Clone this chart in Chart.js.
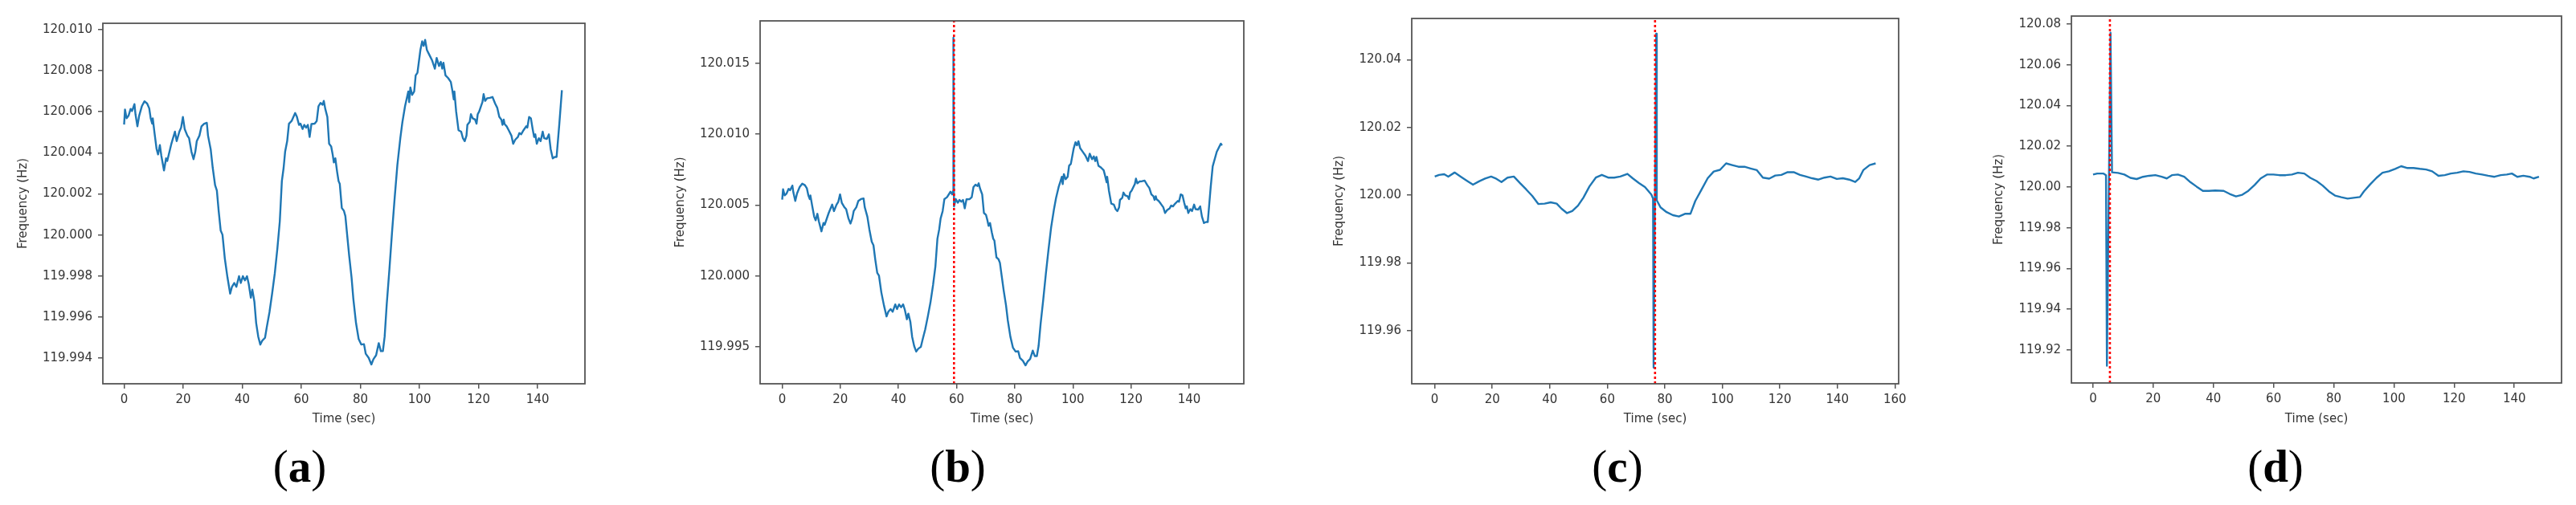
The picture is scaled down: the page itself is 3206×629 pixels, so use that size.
<!DOCTYPE html>
<html>
<head>
<meta charset="utf-8">
<script src="https://cdn.jsdelivr.net/npm/chart.js@4.4.0/dist/chart.umd.min.js"></script>
<style>
html,body{margin:0;padding:0;background:#fff;}
#wrap{position:relative;width:3206px;height:629px;overflow:hidden;background:#fff;}
.pane{position:absolute;top:0;height:629px;}
.pane canvas{display:block;}
.cap{position:absolute;top:552px;font-family:"Liberation Serif","Times New Roman",serif;font-size:57px;line-height:1;color:#000;transform:translateX(-50%);white-space:nowrap;}
.cap b{font-weight:bold;}
</style>
</head>
<body>
<div id="wrap">
  <div class="pane" style="left:0px;width:820px"><canvas id="cA" width="820" height="629"></canvas></div>
  <div class="pane" style="left:820px;width:820px"><canvas id="cB" width="820" height="629"></canvas></div>
  <div class="pane" style="left:1640px;width:820px"><canvas id="cC" width="820" height="629"></canvas></div>
  <div class="pane" style="left:2460px;width:746px"><canvas id="cD" width="746" height="629"></canvas></div>
  <div class="cap" style="left:373px">(<b>a</b>)</div>
  <div class="cap" style="left:1192px">(<b>b</b>)</div>
  <div class="cap" style="left:2013px">(<b>c</b>)</div>
  <div class="cap" style="left:2832px">(<b>d</b>)</div>
</div>
<script>
// ---------------- DATA ----------------
const panelLabels = ["a", "b", "c", "d"];
const xAxisTitle = "Time (sec)";
const yAxisTitle = "Frequency (Hz)";

// (a)
const timeA = [
0,0.3,0.85,1.5,2.2,2.7,3.5,3.85,4.5,5.1,
6.0,6.9,7.8,8.5,9.0,9.5,9.7,10.3,11.0,11.5,
12.1,12.6,13.5,14.2,14.6,16.0,17.2,17.8,18.7,19.3,
19.9,20.5,21.4,22.0,22.8,23.5,24.1,24.6,25.5,26.2,
27.1,28.0,28.4,29.3,30.0,30.8,31.4,32.0,32.7,33.3,
34.1,35.0,35.9,36.5,37.3,38.0,38.9,39.5,40.2,40.9,
41.6,42.2,42.9,43.4,44.1,44.7,45.4,46.1,46.8,47.7,
48.3,49.2,50.1,51.0,51.9,52.7,53.4,54.0,54.5,55.2,
55.8,56.7,57.9,58.5,59.2,59.7,60.4,61.0,61.6,62.2,
62.8,63.4,64.5,65.2,65.8,66.5,67.2,67.6,68.1,68.8,
69.4,70.1,70.6,71.0,71.5,72.1,72.6,73.0,73.7,74.4,
74.9,75.5,76.2,77.0,77.6,78.5,79.4,80.3,81.2,81.8,
82.8,83.7,84.4,85.3,86.2,86.9,87.6,88.2,88.9,89.8,
90.7,91.6,92.5,93.5,94.2,95.1,95.7,96.2,96.5,96.9,
97.5,98.2,98.7,99.3,100.3,100.9,101.4,101.9,102.5,103.4,
104.3,105.2,105.8,106.6,107.2,107.7,108.1,108.8,109.7,110.6,
111.1,111.6,111.8,112.4,113.2,114.1,114.7,115.3,115.9,116.2,
117.0,117.4,118.0,118.8,119.3,119.7,120.2,120.8,121.3,121.7,
122.2,122.9,123.8,124.7,125.6,126.3,127.0,127.7,128.1,128.5,
128.8,129.5,130.2,131.1,131.7,132.4,133.3,133.8,134.4,135.2,
136.1,136.5,137.1,137.7,138.3,138.8,139.2,139.7,140.4,141.0,
141.7,142.2,143.1,143.8,144.4,145.1,145.8,146.4,147.3,148.2
];
const freqA = [
120.00538,120.00611,120.00568,120.00581,120.00614,120.00604,120.00637,120.00588,120.00529,120.00581,
120.00627,120.00651,120.0064,120.00617,120.00568,120.00542,120.00568,120.00496,120.00418,120.00392,
120.00438,120.00386,120.00314,120.00373,120.0036,120.00444,120.00503,120.00457,120.00503,120.00523,
120.00575,120.00516,120.00484,120.00471,120.00405,120.00369,120.00405,120.00457,120.00484,120.00529,
120.00542,120.00546,120.00484,120.00418,120.00327,120.00242,120.00216,120.00118,120.00021,120.00001,
119.99884,119.99792,119.99714,119.99747,119.99766,119.99747,119.99799,119.99766,119.99799,119.99779,
119.99799,119.9976,119.99694,119.99734,119.99675,119.99571,119.99505,119.99466,119.99486,119.99499,
119.99551,119.99623,119.99714,119.99812,119.99936,120.00066,120.00262,120.00327,120.00405,120.00457,
120.00542,120.00555,120.00594,120.00575,120.00536,120.00542,120.00516,120.00536,120.00523,120.00536,
120.00477,120.0054,120.00542,120.00555,120.00627,120.00643,120.00634,120.00653,120.00614,120.00575,
120.00444,120.00431,120.00392,120.00353,120.00373,120.00308,120.00262,120.00249,120.00131,120.00118,
120.00092,120.00001,119.99897,119.99792,119.99688,119.99571,119.99493,119.99466,119.99468,119.99421,
119.99401,119.99369,119.99395,119.99414,119.99473,119.99434,119.99434,119.99505,119.99662,119.99831,
120.00014,120.00183,120.0034,120.00471,120.00549,120.00627,120.00666,120.00699,120.00647,120.00718,
120.00682,120.00699,120.00777,120.0079,120.00901,120.00943,120.00921,120.0095,120.00901,120.00875,
120.00849,120.0081,120.00862,120.00823,120.00843,120.0081,120.00839,120.00777,120.00764,120.00745,
120.00705,120.0066,120.00699,120.00601,120.0051,120.00503,120.00471,120.00457,120.00484,120.00536,
120.00551,120.00588,120.00568,120.00562,120.00542,120.00588,120.00601,120.00627,120.00647,120.00686,
120.00653,120.00666,120.00668,120.00672,120.0064,120.0062,120.00575,120.00562,120.00536,120.00562,
120.0054,120.00529,120.0051,120.00484,120.00444,120.00464,120.00477,120.00496,120.0049,120.0051,
120.00529,120.00523,120.00575,120.00568,120.00516,120.00477,120.0049,120.00444,120.00471,120.00457,
120.00503,120.00471,120.00468,120.0049,120.00418,120.00373,120.0038,120.0038,120.00536,120.00705
];

// (b)
const timeB = [
0,0.3,0.85,1.5,2.2,2.7,3.5,3.85,4.5,5.1,
6.0,6.9,7.8,8.5,9.0,9.5,9.7,10.3,11.0,11.5,
12.1,12.6,13.5,14.2,14.6,16.0,17.2,17.8,18.7,19.3,
19.9,20.5,21.4,22.0,22.8,23.5,24.1,24.6,25.5,26.2,
27.1,28.0,28.4,29.3,30.0,30.8,31.4,32.0,32.7,33.3,
34.1,35.0,35.9,36.5,37.3,38.0,38.9,39.5,40.2,40.9,
41.6,42.2,42.9,43.4,44.1,44.7,45.4,46.1,46.8,47.7,
48.3,49.2,50.1,51.0,51.9,52.7,53.4,54.0,54.5,55.2,
55.8,56.7,57.9,58.5,58.8,58.9,59.1,59.7,60.4,61.0,61.6,62.2,
62.8,63.4,64.5,65.2,65.8,66.5,67.2,67.6,68.1,68.8,
69.4,70.1,70.6,71.0,71.5,72.1,72.6,73.0,73.7,74.4,
74.9,75.5,76.2,77.0,77.6,78.5,79.4,80.3,81.2,81.8,
82.8,83.7,84.4,85.3,86.2,86.9,87.6,88.2,88.9,89.8,
90.7,91.6,92.5,93.5,94.2,95.1,95.7,96.2,96.5,96.9,
97.5,98.2,98.7,99.3,100.3,100.9,101.4,101.9,102.5,103.4,
104.3,105.2,105.8,106.6,107.2,107.7,108.1,108.8,109.7,110.6,
111.1,111.6,111.8,112.4,113.2,114.1,114.7,115.3,115.9,116.2,
117.0,117.4,118.0,118.8,119.3,119.7,120.2,120.8,121.3,121.7,
122.2,122.9,123.8,124.7,125.6,126.3,127.0,127.7,128.1,128.5,
128.8,129.5,130.2,131.1,131.7,132.4,133.3,133.8,134.4,135.2,
136.1,136.5,137.1,137.7,138.3,138.8,139.2,139.7,140.4,141.0,
141.7,142.2,143.1,143.8,144.4,145.1,145.8,146.4,147.4,148.1,
149.5,150.9,151.3
];
const freqB = [
120.00538,120.00611,120.00568,120.00581,120.00614,120.00604,120.00637,120.00588,120.00529,120.00581,
120.00627,120.00651,120.0064,120.00617,120.00568,120.00542,120.00568,120.00496,120.00418,120.00392,
120.00438,120.00386,120.00314,120.00373,120.0036,120.00444,120.00503,120.00457,120.00503,120.00523,
120.00575,120.00516,120.00484,120.00471,120.00405,120.00369,120.00405,120.00457,120.00484,120.00529,
120.00542,120.00546,120.00484,120.00418,120.00327,120.00242,120.00216,120.00118,120.00021,120.00001,
119.99884,119.99792,119.99714,119.99747,119.99766,119.99747,119.99799,119.99766,119.99799,119.99779,
119.99799,119.9976,119.99694,119.99734,119.99675,119.99571,119.99505,119.99466,119.99486,119.99499,
119.99551,119.99623,119.99714,119.99812,119.99936,120.00066,120.00262,120.00327,120.00405,120.00457,
120.00542,120.00555,120.00594,120.00575,120.0060,120.0168,120.0049,120.00542,120.00516,120.00536,120.00523,120.00536,
120.00477,120.0054,120.00542,120.00555,120.00627,120.00643,120.00634,120.00653,120.00614,120.00575,
120.00444,120.00431,120.00392,120.00353,120.00373,120.00308,120.00262,120.00249,120.00131,120.00118,
120.00092,120.00001,119.99897,119.99792,119.99688,119.99571,119.99493,119.99466,119.99468,119.99421,
119.99401,119.99369,119.99395,119.99414,119.99473,119.99434,119.99434,119.99505,119.99662,119.99831,
120.00014,120.00183,120.0034,120.00471,120.00549,120.00627,120.00666,120.00699,120.00647,120.00718,
120.00682,120.00699,120.00777,120.0079,120.00901,120.00943,120.00921,120.0095,120.00901,120.00875,
120.00849,120.0081,120.00862,120.00823,120.00843,120.0081,120.00839,120.00777,120.00764,120.00745,
120.00705,120.0066,120.00699,120.00601,120.0051,120.00503,120.00471,120.00457,120.00484,120.00536,
120.00551,120.00588,120.00568,120.00562,120.00542,120.00588,120.00601,120.00627,120.00647,120.00686,
120.00653,120.00666,120.00668,120.00672,120.0064,120.0062,120.00575,120.00562,120.00536,120.00562,
120.0054,120.00529,120.0051,120.00484,120.00444,120.00464,120.00477,120.00496,120.0049,120.0051,
120.00529,120.00523,120.00575,120.00568,120.00516,120.00477,120.0049,120.00444,120.00471,120.00457,
120.00503,120.00471,120.00468,120.0049,120.00418,120.00373,120.0038,120.0038,120.00624,120.00773,
120.00876,120.00933,120.0092
];

// (c)
const timeC = [
0,1.5,3.3,4.7,6.9,9.0,11.1,13.3,15.4,17.5,
19.6,21.1,23.2,25.3,27.5,29.6,31.8,33.9,36.0,38.2,
40.3,42.4,44.1,46.0,47.8,49.8,51.7,53.8,56.0,58.1,
60.3,62.4,64.5,67.0,68.8,71.0,73.1,75.3,75.9,76.1,
77.0,77.2,
78.5,80.6,82.8,84.9,87.0,88.9,90.6,92.8,94.9,97.0,
99.2,101.3,103.4,105.6,107.7,109.8,112.0,114.1,116.3,118.4,
120.5,122.7,124.8,127.0,129.1,131.2,133.4,135.5,137.6,139.8,
141.9,144.1,146.2,147.6,149.0,151.2,153.3
];
const freqC = [
120.0055,120.0060,120.0062,120.0055,120.0067,120.0055,120.0043,120.0031,120.0041,120.0049,
120.0055,120.0050,120.0039,120.0052,120.0055,120.0036,120.0017,119.9998,119.9974,119.9975,
119.9979,119.9975,119.9960,119.9947,119.9953,119.9969,119.9993,120.0026,120.0052,120.0060,
120.0052,120.0052,120.0055,120.0063,120.0050,120.0036,120.0024,120.0002,119.9990,119.9491,
120.0477,119.9985,
119.9964,119.9950,119.9941,119.9937,119.9945,119.9945,119.9983,120.0017,120.0050,120.0070,
120.0075,120.0094,120.0089,120.0084,120.0084,120.0079,120.0074,120.0052,120.0049,120.0058,
120.0060,120.0068,120.0068,120.0060,120.0055,120.0050,120.0046,120.0052,120.0055,120.0048,
120.0050,120.0046,120.0039,120.0050,120.0074,120.0089,120.0094
];

// (d)
const timeD = [
0,1.4,3.5,4.3,4.6,5.8,6.3,8.3,10.4,12.4,
14.5,16.6,18.6,20.7,22.8,24.5,26.2,28.2,30.3,32.4,
34.4,36.5,38.5,40.6,43.4,45.4,47.5,49.6,51.6,53.7,
55.7,57.8,59.9,61.9,64.0,66.1,68.1,70.2,72.2,74.3,
76.3,78.4,80.4,82.5,84.6,86.6,88.7,90.0,92.1,94.2,
96.2,98.3,100.4,102.4,104.5,106.5,108.6,110.7,112.7,114.8,
116.9,118.9,121.0,123.1,125.1,127.2,129.3,131.3,133.4,135.5,
137.5,139.2,141.0,143.0,145.1,146.4,148.2
];
const freqD = [
120.0061,120.0066,120.0066,120.0058,119.9123,120.0757,120.0072,120.0069,120.0061,120.0045,
120.0039,120.0050,120.0055,120.0058,120.0050,120.0042,120.0058,120.0061,120.0050,120.0023,
120.0002,119.9981,119.9981,119.9983,119.9981,119.9966,119.9954,119.9962,119.9981,120.0010,
120.0042,120.0061,120.0061,120.0058,120.0058,120.0061,120.0070,120.0066,120.0045,120.0029,
120.0007,119.9978,119.9958,119.9950,119.9943,119.9947,119.9951,119.9978,120.0013,120.0045,
120.0070,120.0077,120.0089,120.0102,120.0093,120.0093,120.0089,120.0086,120.0077,120.0055,
120.0058,120.0066,120.0070,120.0077,120.0074,120.0066,120.0061,120.0055,120.0050,120.0058,
120.0061,120.0066,120.0050,120.0055,120.0050,120.0042,120.0050
];

// event (fault injection) instants, red dotted line
const eventTimes = [null, 59.1, 76.6, 5.6];

// tick labels
const xTicksA = [0,20,40,60,80,100,120,140];
const xTicksB = [0,20,40,60,80,100,120,140];
const xTicksC = [0,20,40,60,80,100,120,140,160];
const xTicksD = [0,20,40,60,80,100,120,140];
const yTicksA = [119.994,119.996,119.998,120.000,120.002,120.004,120.006,120.008,120.010];
const yTicksB = [119.995,120.000,120.005,120.010,120.015];
const yTicksC = [119.96,119.98,120.00,120.02,120.04];
const yTicksD = [119.92,119.94,119.96,119.98,120.00,120.02,120.04,120.06,120.08];

// axis limits (as in the reference)
const xRangeA = [-7.2, 156.0],  yRangeA = [119.99275, 120.01031];
const xRangeB = [-7.6, 158.8],  yRangeB = [119.99239, 120.01799];
const xRangeC = [-8.0, 161.3],  yRangeC = [119.9443, 120.0522];
const xRangeD = [-7.2, 155.7],  yRangeD = [119.9038, 120.0839];

// ---------------- RENDER ----------------
Chart.defaults.font.family = "'DejaVu Sans', sans-serif";
Chart.defaults.font.size = 15;
Chart.defaults.color = '#333';
Chart.defaults.animation = false;

const framePlugin = {
  id: 'frame',
  afterDatasetsDraw(chart) {
    const a = chart.chartArea, ctx = chart.ctx;
    ctx.save();
    ctx.strokeStyle = '#555';
    ctx.lineWidth = 1.8;
    ctx.strokeRect(a.left, a.top, a.right - a.left, a.bottom - a.top);
    ctx.restore();
  }
};

function makePanel(canvasId, times, freqs, xRange, yRange, xTicks, yTicks, dec, ev, lay) {
  const pts = times.map((t, i) => ({x: t, y: freqs[i]}));
  const datasets = [];
  if (ev !== null) {
    datasets.push({
      data: [{x: ev, y: yRange[0]}, {x: ev, y: yRange[1]}],
      borderColor: '#ff0000', borderWidth: 2.6, borderDash: [3, 3],
      pointRadius: 0, tension: 0, order: 0
    });
  }
  datasets.push({
    data: pts, borderColor: '#1f77b4', borderWidth: 2.4,
    pointRadius: 0, tension: 0, borderJoinStyle: 'round', order: 1
  });
  const W = lay.W;
  new Chart(document.getElementById(canvasId), {
    type: 'line',
    data: {datasets},
    plugins: [framePlugin],
    options: {
      responsive: false, devicePixelRatio: 1, animation: false,
      layout: {padding: {left: lay.yTitleX - 9, right: W - lay.R, top: lay.T, bottom: 629 - 531}},
      plugins: {legend: {display: false}, tooltip: {enabled: false}},
      scales: {
        x: {
          type: 'linear', min: xRange[0], max: xRange[1],
          afterBuildTicks: s => { s.ticks = xTicks.map(v => ({value: v})); },
          afterFit: s => { s.height = 531 - lay.B; },
          grid: {drawOnChartArea: false, drawTicks: true, tickLength: 6, color: '#555', lineWidth: 1.5},
          border: {display: false},
          ticks: {autoSkip: false, maxRotation: 0, padding: 5, color: '#333', font: {size: 15},
                  callback: v => String(Math.round(v))},
          title: {display: true, text: xAxisTitle, color: '#333', font: {size: 15}, padding: {top: 0, bottom: 0}}
        },
        y: {
          type: 'linear', min: yRange[0], max: yRange[1],
          afterBuildTicks: s => { s.ticks = yTicks.map(v => ({value: v})); },
          afterFit: s => { s.width = lay.L - (lay.yTitleX - 9); },
          grid: {drawOnChartArea: false, drawTicks: true, tickLength: 6, color: '#555', lineWidth: 1.5},
          border: {display: false},
          ticks: {autoSkip: false, padding: 7, color: '#333', font: {size: 15},
                  callback: v => Number(v).toFixed(dec)},
          title: {display: true, text: yAxisTitle, color: '#333', font: {size: 15}, padding: {top: 0, bottom: 0}}
        }
      }
    }
  });
}

makePanel('cA', timeA, freqA, xRangeA, yRangeA, xTicksA, yTicksA, 3, eventTimes[0],
  {W: 820, L: 128, R: 728, T: 29, B: 478, yTitleX: 29});
makePanel('cB', timeB, freqB, xRangeB, yRangeB, xTicksB, yTicksB, 3, eventTimes[1],
  {W: 820, L: 126, R: 728, T: 26, B: 478, yTitleX: 27});
makePanel('cC', timeC, freqC, xRangeC, yRangeC, xTicksC, yTicksC, 2, eventTimes[2],
  {W: 820, L: 117, R: 723, T: 23, B: 478, yTitleX: 27});
makePanel('cD', timeD, freqD, xRangeD, yRangeD, xTicksD, yTicksD, 2, eventTimes[3],
  {W: 746, L: 118, R: 728, T: 20, B: 477, yTitleX: 28});
</script>
</body>
</html>
